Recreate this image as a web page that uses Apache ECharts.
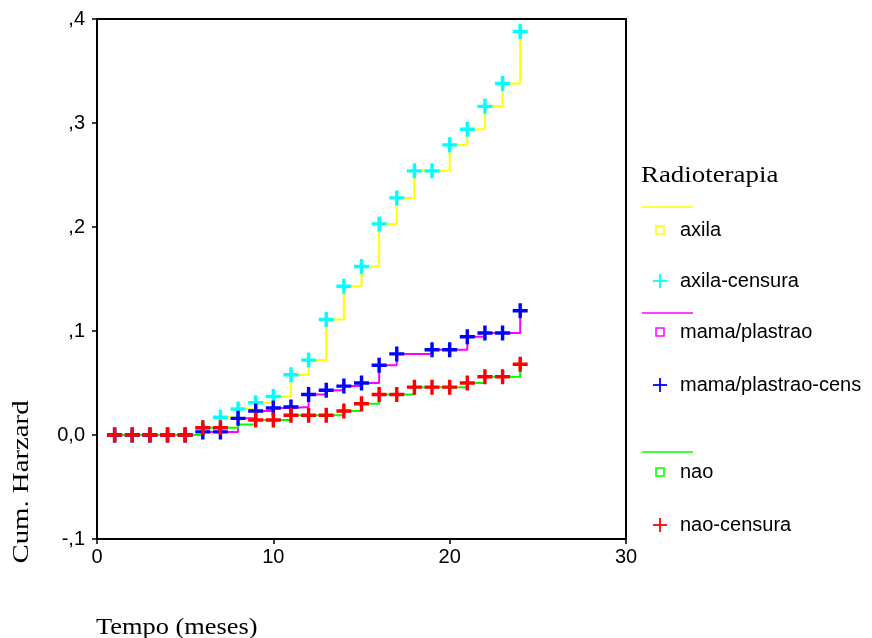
<!DOCTYPE html>
<html>
<head>
<meta charset="utf-8">
<script src="https://cdn.jsdelivr.net/npm/echarts@6/dist/echarts.min.js"></script>
<style>html,body{margin:0;padding:0;background:#fff}#c{width:872px;height:638px}</style>
</head>
<body>
<div id="c"></div>
<script>
// Data (months 1..24)
const times = [1,2,3,4,5,6,7,8,9,10,11,12,13,14,15,16,17,18,19,20,21,22,23,24];
const axilaH = [0,0,0,0,0,0.007,0.017,0.025,0.031,0.037,0.058,0.072,0.111,0.143,0.162,0.203,0.228,0.254,0.254,0.279,0.294,0.316,0.338,0.388];
const mamaH  = [0,0,0,0,0,0.003,0.003,0.016,0.023,0.026,0.027,0.039,0.043,0.047,0.050,0.067,0.078,0.078,0.082,0.082,0.0945,0.098,0.098,0.1195];
const naoH   = [0,0,0,0,0,0.007,0.007,0.010,0.0144,0.0144,0.019,0.019,0.019,0.023,0.030,0.039,0.039,0.046,0.046,0.046,0.050,0.056,0.056,0.068];
const axilaCensT = [1,2,3,4,5,6,7,8,9,10,11,12,13,14,15,16,17,18,19,20,21,22,23,24];
const mamaCensT  = [1,2,3,4,5,6,7,8,9,10,11,12,13,14,15,16,17,19,20,21,22,23,24];
const naoCensT   = [1,2,3,4,5,6,7,9,10,11,12,13,14,15,16,17,18,19,20,21,22,23,24];
const yTickLabels = {'-0.1':'-,1','0':'0,0','0.1':',1','0.2':',2','0.3':',3','0.4':',4'};
const xTicks = [0,10,20,30];
const legendTitle = 'Radioterapia';
const legendNames = ['axila','axila-censura','mama/plastrao','mama/plastrao-cens','nao','nao-censura'];
const yTitle = 'Cum. Harzard';
const xTitle = 'Tempo (meses)';

const colors = {axila:'#ffff00', axilaC:'#00ffff', mama:'#ff00ff', mamaC:'#0000ff', nao:'#00ff00', naoC:'#ff0000'};
const plusPath = 'path://M-1.6,-7H1.6V-1.6H7V1.6H1.6V7H-1.6V1.6H-7V-1.6H-1.6Z';

function pairs(vals){ return times.map((t,i)=>[t, vals[i]]); }
function cens(ts, vals){ return ts.map(t=>[t, vals[times.indexOf(t)]]); }

function lineSeries(name, vals, color, z){
  return {name, type:'line', step:'end', data:pairs(vals), showSymbol:false, symbol:'none',
    lineStyle:{color, width:2}, itemStyle:{color}, z, animation:false};
}
function censSeries(name, ts, vals, color, z){
  return {name, type:'scatter', data:cens(ts, vals), symbol:plusPath, symbolSize:[15,15],
    itemStyle:{color, opacity:1}, z, animation:false};
}

const serif = '"Liberation Serif","Times New Roman",serif';
const sans = '"Liberation Sans",Arial,sans-serif';

const graphics = [];
graphics.push({type:'text', x:641, y:176, scaleX:1.12, style:{text:legendTitle, font:'24px '+serif, fill:'#000', textVerticalAlign:'middle'}});
const legendRows = [
  {kind:'line', y:207, color:colors.axila},
  {kind:'sq', y:230, color:colors.axila, text:legendNames[0]},
  {kind:'plus', y:281, color:colors.axilaC, text:legendNames[1]},
  {kind:'line', y:313, color:colors.mama},
  {kind:'sq', y:332, color:colors.mama, text:legendNames[2]},
  {kind:'plus', y:385, color:colors.mamaC, text:legendNames[3]},
  {kind:'line', y:452, color:colors.nao},
  {kind:'sq', y:472, color:colors.nao, text:legendNames[4]},
  {kind:'plus', y:525, color:colors.naoC, text:legendNames[5]}
];
legendRows.forEach(r=>{
  if(r.kind==='line'){
    graphics.push({type:'line', shape:{x1:642,y1:r.y,x2:693,y2:r.y}, style:{stroke:r.color, lineWidth:1.5}});
  } else if(r.kind==='sq'){
    graphics.push({type:'rect', shape:{x:656,y:r.y-4,width:8,height:8}, style:{stroke:r.color, fill:'#fff', lineWidth:1.5}});
  } else {
    graphics.push({type:'line', shape:{x1:653,y1:r.y,x2:667,y2:r.y}, style:{stroke:r.color, lineWidth:1.8}});
    graphics.push({type:'line', shape:{x1:660,y1:r.y-7,x2:660,y2:r.y+7}, style:{stroke:r.color, lineWidth:1.8}});
  }
  if(r.text){
    graphics.push({type:'text', x:680, y:r.y, style:{text:r.text, font:'20px '+sans, fill:'#000', textVerticalAlign:'middle'}});
  }
});
graphics.push({type:'text', x:22, y:482, rotation:Math.PI/2, scaleX:1.2, style:{text:yTitle, font:'24px '+serif, fill:'#000', textAlign:'center', textVerticalAlign:'middle'}});
graphics.push({type:'text', x:96, y:628, scaleX:1.1, style:{text:xTitle, font:'24px '+serif, fill:'#000', textAlign:'left', textVerticalAlign:'middle'}});

const chart = echarts.init(document.getElementById('c'), null, {renderer:'canvas'});
chart.setOption({
  animation:false,
  backgroundColor:'#fff',
  grid:{left:97, right:246, top:19, bottom:99, show:true, borderColor:'#000', borderWidth:2, backgroundColor:'transparent'},
  xAxis:{type:'value', min:xTicks[0], max:xTicks[xTicks.length-1], interval:10,
    axisLine:{show:true, onZero:false, lineStyle:{color:'#000', width:2}},
    axisTick:{show:true, length:5, lineStyle:{color:'#000', width:1.5}},
    axisLabel:{color:'#000', fontFamily:sans, fontSize:20, margin:8},
    splitLine:{show:false}},
  yAxis:{type:'value', min:-0.1, max:0.4, interval:0.1,
    axisLine:{show:true, onZero:false, lineStyle:{color:'#000', width:2}},
    axisTick:{show:true, length:5, lineStyle:{color:'#000', width:1.5}},
    axisLabel:{color:'#000', fontFamily:sans, fontSize:20, margin:12,
      formatter:v=>{const k=String(Math.round(v*10)/10); return yTickLabels[k]!==undefined?yTickLabels[k]:'';}},
    splitLine:{show:false}},
  series:[
    lineSeries('axila', axilaH, colors.axila, 2),
    lineSeries('mama/plastrao', mamaH, colors.mama, 2),
    lineSeries('nao', naoH, colors.nao, 2),
    censSeries('axila-censura', axilaCensT, axilaH, colors.axilaC, 3),
    censSeries('mama/plastrao-cens', mamaCensT, mamaH, colors.mamaC, 4),
    censSeries('nao-censura', naoCensT, naoH, colors.naoC, 5)
  ],
  graphic:graphics
});
</script>
</body>
</html>
